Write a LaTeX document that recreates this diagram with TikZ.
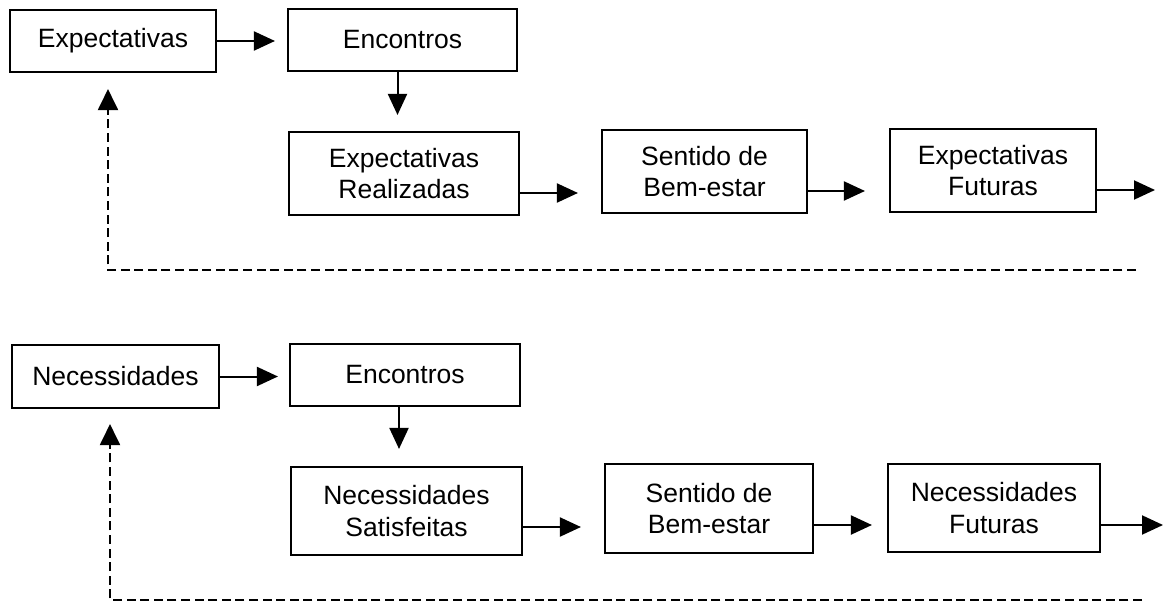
\documentclass[tikz,border=0pt]{standalone}
\usepackage{fontspec}
\setmainfont{Liberation Sans}
\usetikzlibrary{arrows.meta,calc}
\begin{document}
\begin{tikzpicture}[x=1pt,y=-1pt,
  box/.style={draw, line width=2.1pt, inner sep=0pt, align=center,
    font=\fontsize{26.5}{31.5}\selectfont},
  arr/.style={line width=2pt, -{Triangle[length=21pt,width=19pt]}},
  fb/.style={line width=2pt, dash pattern=on 9pt off 4.6pt,
    -{Triangle[length=21pt,width=20pt]}}]
\useasboundingbox (0,0) rectangle (1165,604);
% ---------- top row ----------
\node[box, minimum width=206pt, minimum height=62pt] (e1) at (113,41) {Expectativas};
\node[box, minimum width=229pt, minimum height=62pt] (enc1) at (402.5,40) {Encontros};
\node[box, minimum width=230pt, minimum height=83pt] (er) at (404,173.5) {Expectativas\\Realizadas};
\node[box, minimum width=205pt, minimum height=83pt] (sb1) at (704.5,171.5) {Sentido de\\Bem-estar};
\node[box, minimum width=206pt, minimum height=83pt] (ef) at (993,170.5) {Expectativas\\Futuras};
\coordinate (o1) at (1155,190);
\coordinate (d1) at (1136,270);
\coordinate (d1c) at (108,270);
\draw[arr, shorten >=12pt] (e1.east) -- (e1.east -| enc1.west);
\draw[arr, shorten >=16pt] ([xshift=-5pt]enc1.south) -- ([xshift=-5pt]enc1.south |- er.north);
\draw[arr, shorten >=23pt] ([yshift=-19.5pt]er.east) -- ([yshift=-19.5pt]er.east -| sb1.west);
\draw[arr, shorten >=24pt] ([yshift=-19.5pt]sb1.east) -- ([yshift=-19.5pt]sb1.east -| ef.west);
\draw[arr] ([yshift=-19.5pt]ef.east) -- (o1);
\draw[fb, shorten >=16pt] (d1) -- (d1c) -- (d1c |- e1.south);
% ---------- bottom row ----------
\node[box, minimum width=207pt, minimum height=63pt] (n1) at (115.5,376.5) {Necessidades};
\node[box, minimum width=230pt, minimum height=62pt] (enc2) at (405,375) {Encontros};
\node[box, minimum width=231pt, minimum height=88pt] (ns) at (406.5,511) {Necessidades\\Satisfeitas};
\node[box, minimum width=208pt, minimum height=89pt] (sb2) at (709,508.5) {Sentido de\\Bem-estar};
\node[box, minimum width=212pt, minimum height=88pt] (nf) at (994,508) {Necessidades\\Futuras};
\coordinate (o2) at (1163,525);
\coordinate (d2) at (1142,600);
\coordinate (d2c) at (110,600);
\draw[arr, shorten >=11pt] (n1.east) -- (n1.east -| enc2.west);
\draw[arr, shorten >=17pt] ([xshift=-6pt]enc2.south) -- ([xshift=-6pt]enc2.south |- ns.north);
\draw[arr, shorten >=23pt] ([yshift=-16pt]ns.east) -- ([yshift=-16pt]ns.east -| sb2.west);
\draw[arr, shorten >=15pt] ([yshift=-16.5pt]sb2.east) -- ([yshift=-16.5pt]sb2.east -| nf.west);
\draw[arr] ([yshift=-17pt]nf.east) -- (o2);
\draw[fb, shorten >=15pt] (d2) -- (d2c) -- (d2c |- n1.south);
\end{tikzpicture}
\end{document}
